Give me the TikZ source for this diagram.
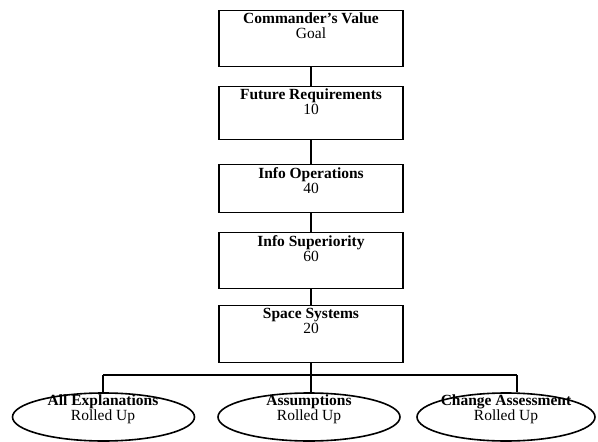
\documentclass[tikz,border=0pt]{standalone}
\usepackage{fontspec}
\setmainfont{Liberation Serif}
\usetikzlibrary{shapes.geometric}

\newcommand{\chartfont}{\fontsize{15.5}{15}\selectfont\lineskiplimit=-20pt\lineskip=0pt}

\begin{document}
\begin{tikzpicture}[x=1pt,y=-1pt,
  levelbox/.style={draw, line width=1.4pt, rectangle, minimum width=184pt,
    inner sep=0pt, anchor=north},
  caption/.style={anchor=north, inner sep=0pt, align=center, font=\chartfont},
  factor/.style={draw, line width=1.6pt, ellipse, minimum width=182pt,
    minimum height=48pt, inner sep=0pt},
  link/.style={line width=1.3pt}]

  \useasboundingbox (0,0) rectangle (598,442);

  % stacked value hierarchy
  \node[levelbox, minimum height=56pt] (b1) at (311,10) {};
  \node[levelbox, minimum height=53pt] (b2) at (311,86) {};
  \node[levelbox, minimum height=48pt] (b3) at (311,164) {};
  \node[levelbox, minimum height=56pt] (b4) at (311,232) {};
  \node[levelbox, minimum height=57pt] (b5) at (311,305) {};

  \node[caption] (t1) at ([yshift=-3pt]b1.north) {\textbf{Commander's Value}\\Goal};
  \node[caption] (t2) at ([yshift=-3pt]b2.north) {\textbf{Future Requirements}\\10};
  \node[caption] (t3) at ([yshift=-3pt]b3.north) {\textbf{Info Operations}\\40};
  \node[caption] (t4) at ([yshift=-3pt]b4.north) {\textbf{Info Superiority}\\60};
  \node[caption] (t5) at ([yshift=-3pt]b5.north) {\textbf{Space Systems}\\20};

  % rolled-up factors
  \node[factor] (e1) at (103.5,417) {};
  \node[factor] (e2) at (309,417) {};
  \node[factor, minimum width=178pt] (e3) at (506,417) {};

  \node[caption] (f1) at (103,395) {\textbf{All Explanations}\\Rolled Up};
  \node[caption] (f2) at (309,395) {\textbf{Assumptions}\\Rolled Up};
  \node[caption] (f3) at (506,395) {\textbf{Change Assessment}\\Rolled Up};

  % connectors
  \draw[link] (b1.south) -- (b2.north);
  \draw[link] (b2.south) -- (b3.north);
  \draw[link] (b3.south) -- (b4.north);
  \draw[link] (b4.south) -- (b5.north);

  \coordinate (busL) at (103,375);
  \coordinate (busR) at (517,375);
  \draw[link] (busL) -- (busR);
  \draw[link] (b5.south) -- (b5.south |- e2.north);
  \draw[link] (busL) -- (busL |- e1.north);
  \draw[link] (busR) -- ([yshift=0.5pt]busR |- e3.north);
\end{tikzpicture}
\end{document}
